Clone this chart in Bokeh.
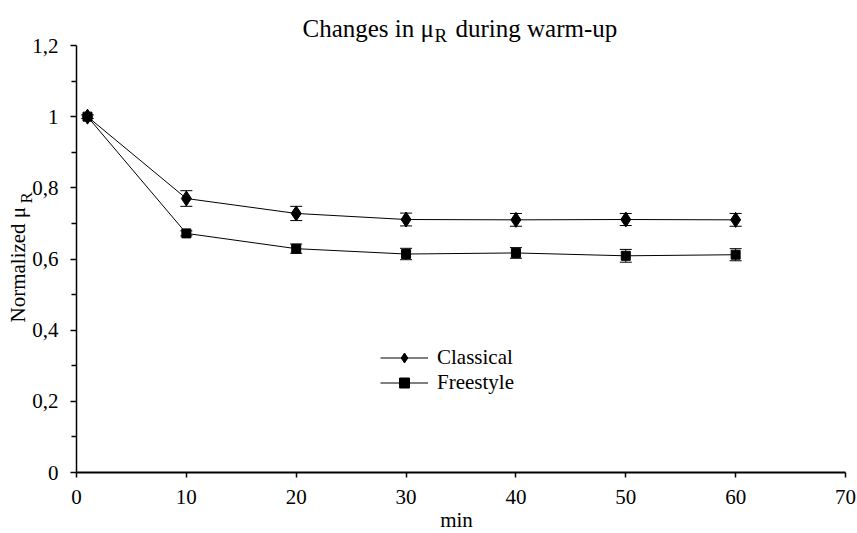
import math
from bokeh.plotting import figure
from bokeh.models import (ColumnDataSource, Range1d, FixedTicker, Whisker, TeeHead,
                          Legend, LegendItem, Label)
from bokeh.embed import file_html
from bokeh.resources import INLINE

# ---- data ----
minutes = [1, 10, 20, 30, 40, 50, 60]
classical = [1.0, 0.770, 0.728, 0.711, 0.710, 0.711, 0.710]
classical_err = [0.005, 0.022, 0.020, 0.018, 0.018, 0.017, 0.018]
freestyle = [1.0, 0.672, 0.629, 0.614, 0.617, 0.609, 0.612]
freestyle_err = [0.005, 0.007, 0.013, 0.016, 0.015, 0.018, 0.017]

x_ticks = [0, 10, 20, 30, 40, 50, 60, 70]
y_ticks = [0, 0.2, 0.4, 0.6, 0.8, 1.0, 1.2]
y_tick_labels = ["0", "0,2", "0,4", "0,6", "0,8", "1", "1,2"]
y_minor_ticks = [0.1, 0.3, 0.5, 0.7, 0.9, 1.1]

FONT = "Liberation Serif"

# ---- layout geometry (pixels) ----
W, H = 857, 533
X0_PX, X1_PX = 76, 845      # pixel of x=0 and x=70
Y0_PX, Y1_PX = 472, 45      # pixel of y=0 and y=1.2
X_MIN, X_MAX = 0, 70
Y_MIN, Y_MAX = 0, 1.2
sx = (X1_PX - X0_PX) / (X_MAX - X_MIN)
sy = (Y0_PX - Y1_PX) / (Y_MAX - Y_MIN)

def dx(px):
    return X_MIN + (px - X0_PX) / sx

def dy(py):
    return Y_MIN + (Y0_PX - py) / sy

p = figure(width=W, height=H, output_backend="svg", toolbar_location=None,
           x_range=Range1d(dx(0), dx(W)), y_range=Range1d(dy(H), dy(0)),
           min_border_left=0, min_border_right=0, min_border_top=0, min_border_bottom=0)
p.outline_line_color = None
p.xgrid.visible = False
p.ygrid.visible = False
p.background_fill_color = "white"
p.border_fill_color = "white"

# axes
xa = p.xaxis[0]
xa.fixed_location = 0
xa.bounds = (X_MIN, X_MAX)
xa.ticker = FixedTicker(ticks=x_ticks)
xa.axis_line_width = 2
xa.axis_line_color = "black"
xa.major_tick_out = 5
xa.major_tick_in = 0
xa.major_tick_line_color = "black"
xa.major_tick_line_width = 1.5
xa.minor_tick_line_color = None
xa.major_label_text_font = FONT
xa.major_label_text_font_size = "21px"
xa.major_label_text_color = "black"
xa.major_label_standoff = 12

ya = p.yaxis[0]
ya.fixed_location = 0
ya.bounds = (Y_MIN, Y_MAX)
ya.ticker = FixedTicker(ticks=y_ticks, minor_ticks=y_minor_ticks)
ya.axis_line_width = 1.5
ya.axis_line_color = "black"
ya.major_tick_out = 6
ya.major_tick_in = 0
ya.minor_tick_out = 5
ya.minor_tick_in = 0
ya.major_tick_line_color = "black"
ya.minor_tick_line_color = "black"
ya.major_tick_line_width = 1.5
ya.minor_tick_line_width = 1.5
ya.major_label_text_font = FONT
ya.major_label_text_font_size = "21px"
ya.major_label_text_color = "black"
ya.major_label_standoff = 12
ya.major_label_overrides = {v: t for v, t in zip(y_ticks, y_tick_labels)}

# error bars
c_src = ColumnDataSource(dict(x=minutes, y=classical,
                              lo=[v - e for v, e in zip(classical, classical_err)],
                              hi=[v + e for v, e in zip(classical, classical_err)]))
f_src = ColumnDataSource(dict(x=minutes, y=freestyle,
                              lo=[v - e for v, e in zip(freestyle, freestyle_err)],
                              hi=[v + e for v, e in zip(freestyle, freestyle_err)]))
for src in (c_src, f_src):
    w = Whisker(source=src, base="x", lower="lo", upper="hi", line_color="black", line_width=1,
                upper_head=TeeHead(size=12, line_color="black", line_width=1),
                lower_head=TeeHead(size=12, line_color="black", line_width=1))
    p.add_layout(w)

# series
p.line("x", "y", source=c_src, line_color="black", line_width=1)
p.scatter("x", "y", source=c_src, marker="diamond", size=15, fill_color="black", line_color="black")
p.line("x", "y", source=f_src, line_color="black", line_width=1)
p.scatter("x", "y", source=f_src, marker="square", size=9, fill_color="black", line_color="black")

# legend proxies (no visible data point)
proxy = ColumnDataSource(dict(x=[float("nan")], y=[float("nan")]))
lc = p.line("x", "y", source=proxy, line_color="black", line_width=1)
mc = p.scatter("x", "y", source=proxy, marker="diamond", size=11, fill_color="black", line_color="black")
lf = p.line("x", "y", source=proxy, line_color="black", line_width=1)
mf = p.scatter("x", "y", source=proxy, marker="square", size=7, fill_color="black", line_color="black")
legend = Legend(items=[LegendItem(label="Classical", renderers=[lc, mc]),
                       LegendItem(label="Freestyle", renderers=[lf, mf])],
                location=(380, H - 395), orientation="vertical",
                glyph_width=48, glyph_height=25, label_height=25, spacing=0,
                padding=0, margin=0, label_standoff=9,
                border_line_alpha=0, background_fill_alpha=0,
                label_text_font=FONT, label_text_font_size="21px", label_text_color="black")
p.add_layout(legend, "center")

# title with subscript
p.add_layout(Label(x=dx(302), y=dy(28), text="Changes in \u03bc", text_font=FONT,
                   text_font_size="25px", text_color="black", text_baseline="middle"))
p.add_layout(Label(x=dx(434), y=dy(35), text="R", text_font=FONT,
                   text_font_size="19px", text_color="black", text_baseline="middle"))
p.add_layout(Label(x=dx(455), y=dy(28), text="during warm-up", text_font=FONT,
                   text_font_size="25px", text_color="black", text_baseline="middle"))

# y axis label with subscript (rotated)
p.add_layout(Label(x=dx(17), y=dy(322), text="Normalized \u03bc", angle=math.pi / 2,
                   text_font=FONT, text_font_size="21px", text_color="black",
                   text_baseline="middle", text_align="left"))
p.add_layout(Label(x=dx(26), y=dy(203), text="R", angle=math.pi / 2,
                   text_font=FONT, text_font_size="17px", text_color="black",
                   text_baseline="middle", text_align="left"))

# x axis label
p.add_layout(Label(x=dx(456), y=dy(519), text="min", text_font=FONT, text_font_size="21px",
                   text_color="black", text_baseline="middle", text_align="center"))

open("out.html", "w").write(file_html(p, INLINE))
